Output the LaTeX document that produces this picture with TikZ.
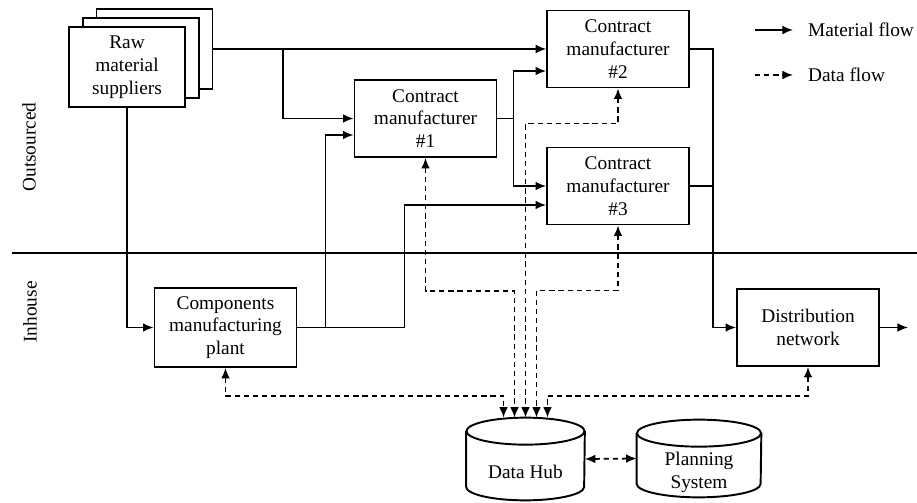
\documentclass[tikz,border=0pt]{standalone}
\usepackage{fontspec}
\setmainfont{Liberation Serif}
\usetikzlibrary{arrows.meta}
\tikzset{
  box/.style={draw,fill=white,line width=1.1pt,align=center,minimum width=2.84cm,minimum height=1.54cm},
  supp/.style={box,minimum width=2.32cm,minimum height=1.6cm},
  drum/.style={minimum width=2.36cm,minimum height=1.64cm,inner sep=0pt},
  flow/.style={->,line width=1pt},
  data/.style={<->,line width=1pt,dash pattern=on 3pt off 2.2pt}
}
\begin{document}
\begin{tikzpicture}[x=0.02cm,y=-0.02cm,font=\fontsize{11}{13}\selectfont,>={Latex[length=6pt,width=5pt]}]
\useasboundingbox (0,0) rectangle (917,503);
\node[supp] (raw3) at (154.5,49) {};
\node[supp] (raw2) at (141,58) {};
\node[supp] (raw) at (127,67) {Raw\\material\\suppliers};
\node[box] (cm1) at (425.5,118.5) {Contract\\manufacturer\\\#1};
\node[box] (cm2) at (618,49) {Contract\\manufacturer\\\#2};
\node[box] (cm3) at (618,186) {Contract\\manufacturer\\\#3};
\node[box,minimum height=1.58cm] (comp) at (225.5,327.5) {Components\\manufacturing\\plant};
\node[box] (dist) at (808,327.5) {Distribution\\network};
\node[drum,label={[yshift=-0.26cm]center:Data Hub}] (hub) at (525.5,459) {};
\node[drum,minimum width=2.48cm,minimum height=1.54cm,label={[yshift=-0.28cm,align=center]center:Planning\\System}] (plan) at (699,458.5) {};
\foreach \c/\rx in {hub/1.18cm,plan/1.24cm}{
  \draw[line width=1.1pt] ([yshift=-0.27cm]\c.north) ellipse [x radius=\rx, y radius=0.27cm];
  \draw[line width=1.1pt] ([yshift=-0.27cm]\c.north west) -- ([yshift=0.27cm]\c.south west)
    arc [start angle=180, end angle=360, x radius=\rx, y radius=0.27cm] -- ([yshift=-0.27cm]\c.north east);
}
\node[rotate=90] (outs) at (29,147) {Outsourced};
\node[rotate=90] (inh) at (30,312) {Inhouse};
\draw[line width=1.5pt] (12,253) -- (917,253);
% material flow
\coordinate (j1) at (283,49);
\coordinate (out) at (908,327.5);
\draw[line width=1pt] (raw3.east) -- (j1);
\draw[flow] (j1) |- (cm1.west);
\draw[flow,line width=0.6pt] (j1) -- (cm2.west);
\draw[flow] (raw.south) |- (comp.west);
\draw[flow] (comp.east) -- ++(28,0) |- ([yshift=-0.33cm]cm1.west);
\draw[flow] (comp.east) -- ++(107,0) |- ([yshift=-0.38cm]cm3.west);
\draw[flow] (cm1.east) -- ++(16,0) |- ([yshift=-0.44cm]cm2.west);
\draw[flow] (cm1.east) -- ++(16,0) |- (cm3.west);
\draw[flow] (cm2.east) -- ++(23,0) |- (dist.west);
\draw[line width=1pt] (cm3.east) -- ++(23,0);
\draw[flow] (dist.east) -- (out);
% data flow
\draw[data] (comp.south) -- ++(0,28) -| ([xshift=-0.44cm]hub.north);
\draw[data] (cm1.south) -- ++(0,133) -| ([xshift=-0.22cm]hub.north);
\draw[data] (cm2.south) -- ++(0,35) -| (hub.north);
\draw[data] (cm3.south) -- ++(0,65) -| ([xshift=0.22cm]hub.north);
\draw[data] (dist.south) -- ++(0,29) -| ([xshift=0.44cm]hub.north);
\draw[data] (hub.east) -- (plan.west);
% legend
\coordinate (mf0) at (755,30);
\coordinate (mf1) at (793,30);
\coordinate (df0) at (755,75);
\coordinate (df1) at (793,75);
\node[anchor=west] (mf) at (802,30) {Material flow};
\node[anchor=west] (df) at (802,75) {Data flow};
\draw[flow] (mf0) -- (mf1);
\draw[data,->] (df0) -- (df1);
\end{tikzpicture}
\end{document}
